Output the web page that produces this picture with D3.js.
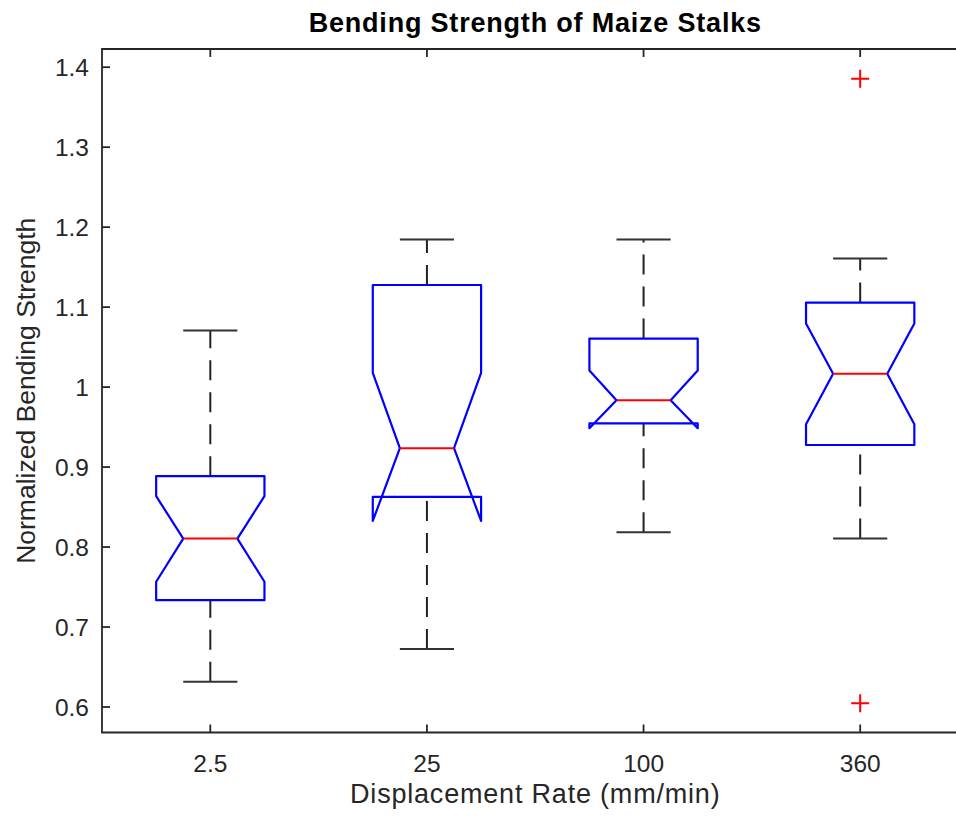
<!DOCTYPE html>
<html lang="en">
<head>
    <meta charset="UTF-8">
    <title>Bending Strength of Maize Stalks</title>
    <style>
        body{ margin:0; background:white; overflow:hidden; }
        svg{ display:block; }
        text{ font-family: "Liberation Sans", Arial, Helvetica, sans-serif; fill:#262626; }
    </style>
</head>
<body>
    <script src="https://cdn.jsdelivr.net/npm/d3@7"></script>
    <script>
        // valeurs
        const categories = ['2.5', '25', '100', '360'];
        const q1       = [0.733, 0.862, 0.954, 0.927];
        const medianes = [0.810, 0.923, 0.983, 1.016];
        const q3       = [0.888, 1.127, 1.060, 1.105];
        const notchBas = [0.756, 0.832, 0.948, 0.953];
        const notchHaut= [0.863, 1.017, 1.020, 1.079];
        const moustBas = [0.631, 0.672, 0.818, 0.810];
        const moustHaut= [1.070, 1.184, 1.184, 1.160];
        const aberrants = [[], [], [], [1.385, 0.604]];
        const yTicks = [0.6, 0.7, 0.8, 0.9, 1.0, 1.1, 1.2, 1.3, 1.4];

        const largeur = 956, hauteur = 817;
        const gauche = 102, droite = 968.5, haut = 49, bas = 732.5;

        let canevas = d3.select('body')
            .append('svg')
                .attr('width', largeur)
                .attr('height', hauteur)

        let x = d3.scaleBand().domain(categories).range([gauche, droite]).padding(0)
        let y = d3.scaleLinear().domain([0.5675, 1.4221]).range([bas, haut])

        let centre = c => x(c) + x.bandwidth() / 2
        let demi = x.bandwidth() / 4   // demi-largeur de la boite

        let donnees = categories.map((c, i) => ({
            cat: c, q1: q1[i], med: medianes[i], q3: q3[i],
            nb: notchBas[i], nh: notchHaut[i],
            wb: moustBas[i], wh: moustHaut[i], out: aberrants[i]
        }))

        // moustaches (pointillés, tracées du bas vers le haut)
        let g = canevas.append('g')
        g.selectAll('line.mbas').data(donnees).enter().append('line')
            .attr('x1', d => centre(d.cat)).attr('x2', d => centre(d.cat))
            .attr('y1', d => y(d.wb)).attr('y2', d => y(d.q1))
            .attr('stroke', '#222').attr('stroke-width', 2).attr('stroke-dasharray', '20,12')
        g.selectAll('line.mhaut').data(donnees).enter().append('line')
            .attr('x1', d => centre(d.cat)).attr('x2', d => centre(d.cat))
            .attr('y1', d => y(d.q3)).attr('y2', d => y(d.wh))
            .attr('stroke', '#222').attr('stroke-width', 2).attr('stroke-dasharray', '20,12')

        // extrémités des moustaches
        ;['wb', 'wh'].forEach(k => {
            g.selectAll('line.cap' + k).data(donnees).enter().append('line')
                .attr('x1', d => centre(d.cat) - demi / 2).attr('x2', d => centre(d.cat) + demi / 2)
                .attr('y1', d => y(d[k])).attr('y2', d => y(d[k]))
                .attr('stroke', '#333').attr('stroke-width', 2)
        })

        // boites avec encoche
        g.selectAll('path.boite').data(donnees).enter().append('path')
            .attr('d', d => {
                let c = centre(d.cat), l = c - demi, r = c + demi
                let pts = [
                    [l, y(d.q1)], [l, y(d.nb)], [c - demi / 2, y(d.med)], [l, y(d.nh)], [l, y(d.q3)],
                    [r, y(d.q3)], [r, y(d.nh)], [c + demi / 2, y(d.med)], [r, y(d.nb)], [r, y(d.q1)]
                ]
                return d3.line()(pts) + 'Z'
            })
            .attr('fill', 'none')
            .attr('stroke', '#0000ff')
            .attr('stroke-width', 2.2)
            .attr('stroke-linejoin', 'round')

        // médianes
        g.selectAll('line.med').data(donnees).enter().append('line')
            .attr('x1', d => centre(d.cat) - demi / 2).attr('x2', d => centre(d.cat) + demi / 2)
            .attr('y1', d => y(d.med)).attr('y2', d => y(d.med))
            .attr('stroke', '#ff0000').attr('stroke-width', 2)

        // valeurs aberrantes (+)
        let pts = donnees.flatMap(d => d.out.map(v => ({ cat: d.cat, v: v })))
        g.selectAll('path.plus').data(pts).enter().append('path')
            .attr('d', d => {
                let cx = centre(d.cat), cy = y(d.v), s = 9
                return `M${cx - s},${cy}H${cx + s}M${cx},${cy - s}V${cy + s}`
            })
            .attr('stroke', '#ff0000').attr('stroke-width', 2).attr('fill', 'none')

        // cadre (le bord droit sort de l'image)
        let axeCouleur = '#262626'
        canevas.append('path')
            .attr('d', `M${largeur},${haut}H${gauche}V${bas}H${largeur}`)
            .attr('fill', 'none').attr('stroke', axeCouleur).attr('stroke-width', 1.8)

        let axeY = canevas.append('g')
            .attr('transform', `translate(${gauche},0)`)
            .call(d3.axisRight(y).tickValues(yTicks).tickSize(8).tickFormat(d => '' + (+d.toFixed(1))))
        axeY.select('.domain').remove()
        axeY.selectAll('line').attr('stroke', axeCouleur).attr('stroke-width', 1.8)
        axeY.selectAll('text')
            .attr('x', -13).attr('dy', '0.35em')
            .attr('text-anchor', 'end')
            .style('font-size', '24.5px').style('fill', axeCouleur)
            .attr('font-family', null)

        let axeX = canevas.append('g')
            .attr('transform', `translate(0,${bas})`)
            .call(d3.axisTop(x).tickSize(8).tickFormat(d => d))
        axeX.select('.domain').remove()
        axeX.selectAll('line').attr('stroke', axeCouleur).attr('stroke-width', 1.8)
        axeX.selectAll('text')
            .attr('y', 39).attr('dy', 0)
            .style('font-size', '24.5px').style('fill', axeCouleur)
            .attr('font-family', null)

        let axeXHaut = canevas.append('g')
            .attr('transform', `translate(0,${haut})`)
            .call(d3.axisBottom(x).tickSize(8).tickFormat(''))
        axeXHaut.select('.domain').remove()
        axeXHaut.selectAll('line').attr('stroke', axeCouleur).attr('stroke-width', 1.8)

        // titres
        canevas.append('text')
            .attr('x', (gauche + droite) / 2).attr('y', 32)
            .attr('text-anchor', 'middle')
            .style('font-size', '27px').style('font-weight', 'bold')
            .style('letter-spacing', '0.8px').style('fill', '#000')
            .text('Bending Strength of Maize Stalks')

        canevas.append('text')
            .attr('x', (gauche + droite) / 2).attr('y', 803)
            .attr('text-anchor', 'middle')
            .style('font-size', '27px').style('letter-spacing', '0.8px')
            .text('Displacement Rate (mm/min)')

        canevas.append('text')
            .attr('transform', `translate(35,${(haut + bas) / 2}) rotate(-90)`)
            .attr('text-anchor', 'middle')
            .style('font-size', '26.5px')
            .text('Normalized Bending Strength')
    </script>
</body>
</html>
